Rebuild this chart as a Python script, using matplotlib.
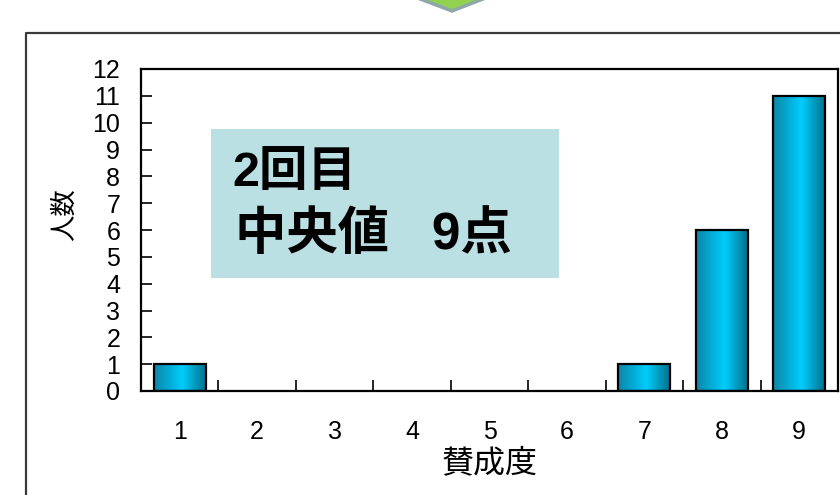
import matplotlib
matplotlib.use("Agg")
import matplotlib.pyplot as plt
import numpy as np
from matplotlib.colors import LinearSegmentedColormap
from matplotlib.lines import Line2D
from matplotlib.patches import Polygon, Rectangle

# data
scores = [1, 2, 3, 4, 5, 6, 7, 8, 9]
counts = [1, 0, 0, 0, 0, 0, 1, 6, 11]
y_ticks = list(range(0, 13))
x_label = "賛成度"
y_label = "人数"
box_lines = ["2回目", "中央値   9点"]

plt.rcParams["font.family"] = ["Noto Sans CJK JP", "DejaVu Sans"]
num_font = ["Liberation Sans Narrow", "Liberation Sans", "Noto Sans CJK JP"]

W, H = 840, 495
fig = plt.figure(figsize=(W / 100, H / 100), dpi=100)

def px(x, y):
    # pixel (from top-left) -> figure fraction
    return x / W, 1 - y / H

# outer frame (only left and top visible)
fig.add_artist(Line2D([26 / W, 26 / W, 1.02], [-0.02, 1 - 33 / H, 1 - 33 / H],
                      transform=fig.transFigure, color="#3a3a3a", lw=1.6))

# tip of the green arrow at top
fig.add_artist(Polygon([px(415, -3), px(488, -3), px(452, 11)], closed=True,
                       transform=fig.transFigure, facecolor="#92d050",
                       edgecolor="#8ea8aa", lw=2.5))

ax = fig.add_axes([141 / W, 1 - 391 / H, 697 / W, 322 / H])

cmap = LinearSegmentedColormap.from_list(
    "bar", [(0, "#0b86a8"), (0.55, "#00cdfc"), (1, "#00708c")])
grad = np.linspace(0, 1, 256).reshape(1, -1)
bw = 0.67
for x, h in zip(scores, counts):
    if h <= 0:
        continue
    rect = Rectangle((x - bw / 2, 0), bw, h, facecolor="none",
                     edgecolor="black", lw=1.6, zorder=3)
    ax.add_patch(rect)
    im = ax.imshow(grad, cmap=cmap, aspect="auto", zorder=2,
                   extent=(x - bw / 2, x + bw / 2, 0, h))
    im.set_clip_path(rect)

ax.set_xlim(0.5, 9.5)
ax.set_ylim(0, 12)
ax.set_yticks(y_ticks)
ax.set_yticklabels([str(v) for v in y_ticks], family=num_font, fontsize=18)
ax.set_xticks(scores)
ax.set_xticklabels([str(v) for v in scores], family=num_font, fontsize=18)
ax.set_xticks([s + 0.5 for s in scores[:-1]], minor=True)
ax.tick_params(axis="x", which="major", length=0, pad=21)
ax.tick_params(axis="x", which="minor", direction="in", length=8, width=1.2)
ax.tick_params(axis="y", direction="in", length=8, width=1.2, pad=15)
for s in ax.spines.values():
    s.set_linewidth(1.6)
    s.set_color("black")

ax.set_xlabel(x_label, fontsize=23)
ax.set_ylabel(y_label, fontsize=19)
ax.xaxis.set_label_coords(0.50, -0.175)
ax.yaxis.set_label_coords(-0.09, 0.547)

# median note box
fig.add_artist(Rectangle(px(211, 278), 348 / W, 149 / H, transform=fig.transFigure,
                         facecolor="#bbe0e3", edgecolor="none"))
fig.text(*px(232, 174), box_lines[0], fontsize=35, fontweight="bold",
         family=["Liberation Sans", "Noto Sans CJK JP"], va="center", ha="left")
fig.text(*px(235, 236), box_lines[1], fontsize=37, fontweight="bold",
         family=["Liberation Sans", "Noto Sans CJK JP"], va="center", ha="left")

fig.savefig("out.png", dpi=100)
